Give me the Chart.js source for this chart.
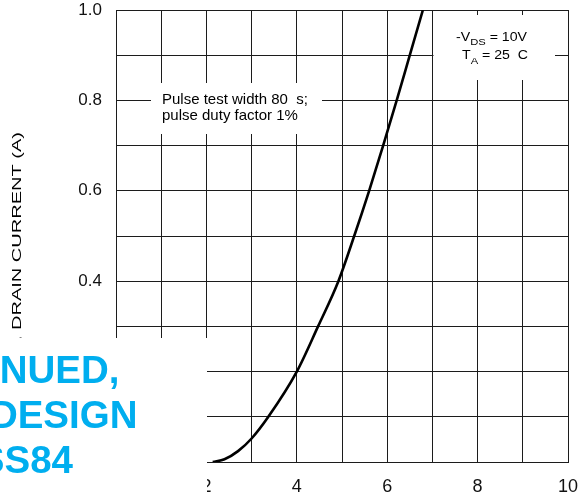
<!DOCTYPE html>
<html>
<head>
<meta charset="utf-8">
<script src="https://cdn.jsdelivr.net/npm/chart.js@4.4.1/dist/chart.umd.min.js"></script>
<style>
  html, body { margin: 0; padding: 0; background: #fff; }
  #wrap { width: 582px; height: 502px; position: relative; }
</style>
</head>
<body>
<div id="wrap"><canvas id="chart" width="582" height="502"></canvas></div>
<script>
// Transfer characteristic: gate-source voltage (V) vs drain current (A)
const gateVoltage  = [2.14, 2.4, 2.7, 3.0, 3.37, 4.0, 4.47, 4.92, 5.27, 5.6, 5.91, 6.21, 6.5, 6.79];
const drainCurrent = [0, 0.006, 0.024, 0.052, 0.1, 0.2, 0.3, 0.4, 0.5, 0.6, 0.7, 0.8, 0.9, 1.0];

// Labelled ticks (grid runs every 1 V and every 0.1 A)
const xTickValues = [0, 2, 4, 6, 8, 10];
const xTickText   = ['0', '2', '4', '6', '8', '10'];
const yTickValues = [0, 0.2, 0.4, 0.6, 0.8, 1.0];
const yTickText   = ['0.0', '0.2', '0.4', '0.6', '0.8', '1.0'];

// Text blocks
const noteLines = ['Pulse test width 80  s;', 'pulse duty factor 1%'];
const stampLines = ['DISCONTINUED,', 'NO NEW DESIGN', 'USE BSS84'];

const FONT = '"Liberation Sans", Arial, sans-serif';
const GRID = '#1c1c1c';
const CLEAR = 'rgba(0,0,0,0)';

function labelFor(values, texts, v) {
  for (let i = 0; i < values.length; i++) {
    if (Math.abs(values[i] - v) < 1e-6) return texts[i];
  }
  return '';
}

// Draws a run of text pieces (some as subscripts), stretched to a given width
function drawSubText(ctx, parts, x, y, size, subSize, subDrop, targetWidth) {
  ctx.save();
  let natural = 0;
  parts.forEach(p => {
    ctx.font = (p.sub ? subSize : size) + 'px ' + FONT;
    natural += ctx.measureText(p.t).width;
  });
  const sx = targetWidth / natural;
  ctx.translate(x, y);
  ctx.scale(sx, 1);
  ctx.textAlign = 'left';
  ctx.textBaseline = 'alphabetic';
  ctx.fillStyle = '#000';
  let cx = 0;
  parts.forEach(p => {
    ctx.font = (p.sub ? subSize : size) + 'px ' + FONT;
    ctx.fillText(p.t, cx, p.sub ? subDrop : 0);
    cx += ctx.measureText(p.t).width;
  });
  ctx.restore();
}

const notesPlugin = {
  id: 'notes',
  beforeDatasetsDraw(chart) {
    const ctx = chart.ctx;
    ctx.save();
    // condition box, upper left
    ctx.fillStyle = '#fff';
    ctx.fillRect(151, 83, 171, 51);
    ctx.fillStyle = '#000';
    ctx.font = '15px ' + FONT;
    ctx.textAlign = 'left';
    ctx.textBaseline = 'alphabetic';
    ctx.fillText(noteLines[0], 162, 104);
    ctx.fillText(noteLines[1], 162, 119.5);
    // bias box, upper right
    ctx.fillStyle = '#fff';
    ctx.fillRect(433.5, 15, 121.5, 65);
    ctx.restore();
    drawSubText(ctx, [{t: '-V'}, {t: 'DS', sub: true}, {t: ' = 10V'}], 456, 40.7, 12, 9.5, 4.3, 71);
    drawSubText(ctx, [{t: 'T'}, {t: 'A', sub: true}, {t: ' = 25  C'}], 462, 59.3, 12, 9.5, 4.3, 66);
  },
  afterDraw(chart) {
    const ctx = chart.ctx;
    // vertical axis title
    ctx.save();
    ctx.translate(21, 132);
    ctx.rotate(-Math.PI / 2);
    ctx.font = '13.5px ' + FONT;
    const main = ', DRAIN CURRENT (A)';
    const sx = 198 / ctx.measureText('DRAIN CURRENT (A)').width;
    ctx.scale(sx, 1);
    ctx.fillStyle = '#000';
    ctx.textBaseline = 'alphabetic';
    ctx.textAlign = 'right';
    ctx.fillText(main, 0, 0);
    let u = -ctx.measureText(main).width;
    ctx.font = '10px ' + FONT;
    ctx.fillText('D', u, 3);
    u -= ctx.measureText('D').width;
    ctx.font = '13.5px ' + FONT;
    ctx.fillText('-I', u, 0);
    ctx.restore();

    // status stamp in the lower left corner
    ctx.save();
    ctx.fillStyle = '#fff';
    ctx.fillRect(0, 338, 207, 164);
    ctx.fillStyle = '#00aeef';
    ctx.font = 'bold 38.5px ' + FONT;
    ctx.textAlign = 'right';
    ctx.textBaseline = 'alphabetic';
    ctx.fillText(stampLines[0], 119.5, 383);
    ctx.fillText(stampLines[1], 137.5, 428);
    ctx.fillText(stampLines[2], 73, 473);
    ctx.restore();
  }
};

new Chart(document.getElementById('chart'), {
  type: 'line',
  data: {
    datasets: [{
      data: gateVoltage.map((v, i) => ({ x: v, y: drainCurrent[i] })),
      borderColor: '#000',
      borderWidth: 2.6,
      pointRadius: 0,
      fill: false,
      cubicInterpolationMode: 'monotone'
    }]
  },
  options: {
    responsive: false,
    animation: false,
    devicePixelRatio: 1,
    layout: { padding: { top: 10, right: 14, bottom: 0, left: 0 } },
    plugins: { legend: { display: false }, tooltip: { enabled: false } },
    scales: {
      x: {
        type: 'linear',
        min: 0, max: 10,
        afterFit(scale) { scale.height = 40; },
        grid: { color: GRID, lineWidth: 1, drawTicks: true, tickLength: 14, tickColor: CLEAR },
        border: { color: GRID, width: 1 },
        ticks: {
          stepSize: 1,
          autoSkip: false,
          maxRotation: 0,
          padding: 0,
          color: '#111',
          font: { family: FONT, size: 18 },
          callback: v => labelFor(xTickValues, xTickText, v)
        }
      },
      y: {
        min: 0, max: 1,
        afterFit(scale) { scale.width = 116; },
        grid: { color: GRID, lineWidth: 1, drawTicks: true, tickLength: 14, tickColor: CLEAR },
        border: { color: GRID, width: 1 },
        ticks: {
          stepSize: 0.1,
          autoSkip: false,
          padding: 0,
          color: '#111',
          font: { family: FONT, size: 17, lineHeight: 1 },
          callback: v => labelFor(yTickValues, yTickText, v)
        }
      }
    }
  },
  plugins: [notesPlugin]
});
</script>
</body>
</html>
